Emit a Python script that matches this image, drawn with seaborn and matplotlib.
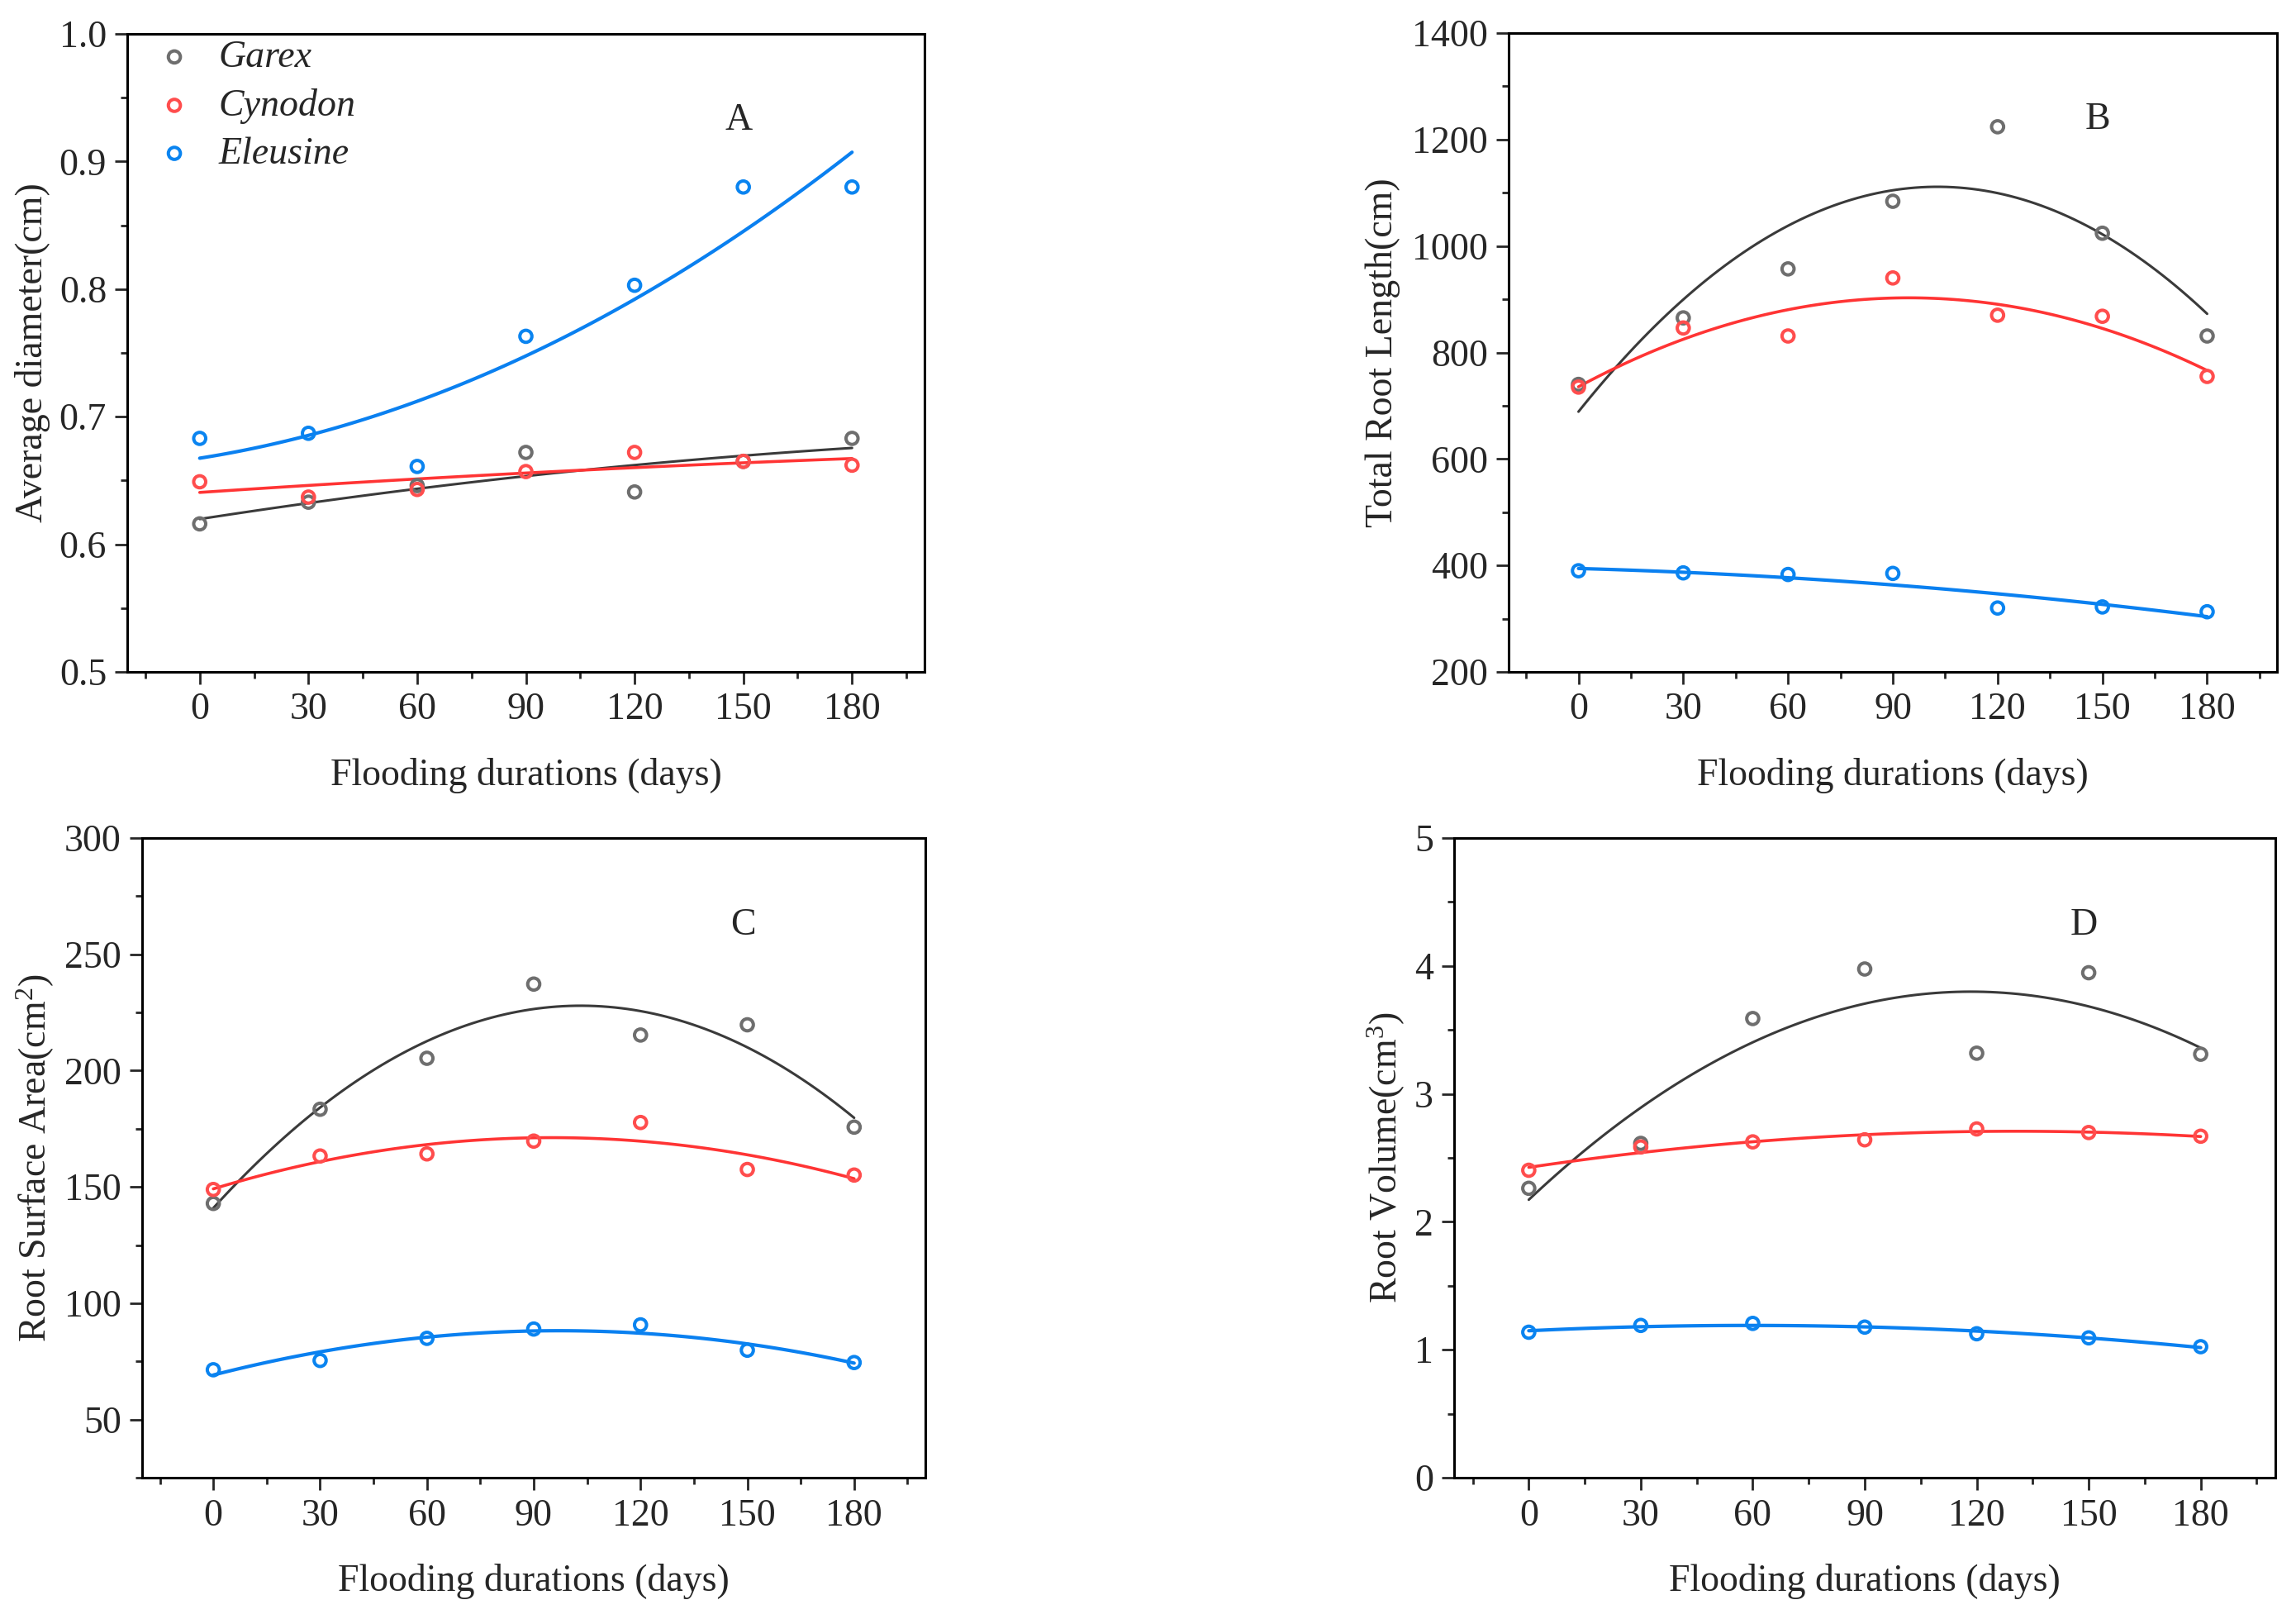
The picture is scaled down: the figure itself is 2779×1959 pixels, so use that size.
import numpy as np
import pandas as pd
import matplotlib
matplotlib.use("Agg")
import matplotlib.pyplot as plt
import seaborn as sns
from matplotlib.ticker import MultipleLocator, FormatStrFormatter

# datos
days = [0, 30, 60, 90, 120, 150, 180]
species = ["Garex", "Cynodon", "Eleusine"]

diam_garex = [0.616, 0.633, 0.646, 0.672, 0.641, 0.665, 0.683]
diam_cynodon = [0.649, 0.637, 0.643, 0.657, 0.672, 0.665, 0.662]
diam_eleusine = [0.683, 0.687, 0.661, 0.763, 0.803, 0.880, 0.880]

length_garex = [740, 865, 957, 1084, 1224, 1024, 831]
length_cynodon = [735, 846, 831, 940, 870, 868, 755]
length_eleusine = [390, 386, 383, 385, 320, 322, 313]

area_garex = [142.9, 183.4, 205.3, 237.2, 215.3, 219.7, 175.7]
area_cynodon = [148.9, 163.3, 164.2, 169.7, 177.7, 157.5, 155.1]
area_eleusine = [71.4, 75.4, 84.9, 88.9, 90.7, 79.8, 74.5]

vol_garex = [2.262, 2.613, 3.589, 3.976, 3.318, 3.947, 3.310]
vol_cynodon = [2.403, 2.585, 2.625, 2.641, 2.726, 2.698, 2.669]
vol_eleusine = [1.137, 1.190, 1.206, 1.177, 1.125, 1.093, 1.024]

colores = ["#6e6e6e", "#ff4d4d", "#0a84f0"]
colores_linea = ["#3a3a3a", "#ff3434", "#0a80f0"]
grosor_linea = [2.2, 2.6, 3.0]

sns.set_style("ticks")
plt.rcParams["font.family"] = ["Liberation Serif", "DejaVu Serif"]
plt.rcParams["mathtext.fontset"] = "custom"
plt.rcParams["mathtext.rm"] = "Liberation Serif"
plt.rcParams["mathtext.it"] = "Liberation Serif:italic"

W, H = 2779, 1959
fig = plt.figure(figsize=(W / 100, H / 100), dpi=100)


def rect(left, right, top, bottom):
    return [left / W, (H - bottom) / H, (right - left) / W, (bottom - top) / H]


paneles = [
    (rect(154, 1119, 41, 813), [diam_garex, diam_cynodon, diam_eleusine],
     (0.5, 1.0), 0.1, 0.05, "%.1f", "Average diameter(cm)", "A", -0.096, -0.135),
    (rect(1826, 2756, 40, 813), [length_garex, length_cynodon, length_eleusine],
     (200, 1400), 200, 100, "%d", "Total Root Length(cm)", "B", -0.141, -0.135),
    (rect(172, 1120, 1014, 1788), [area_garex, area_cynodon, area_eleusine],
     (25, 300), 50, 25, "%d", "Root Surface Area(cm$^2$)", "C", -0.110, -0.135),
    (rect(1760, 2754, 1014, 1788), [vol_garex, vol_cynodon, vol_eleusine],
     (0, 5), 1, 0.5, "%d", "Root Volume(cm$^3$)", "D", -0.057, -0.135),
]

fs = 33
for i, (r, series, ylim, mayor, menor, fmt, ylabel, letra, ylx, xly) in enumerate(paneles):
    ax = fig.add_axes(r)
    for sp, vals, c, cl, lw in zip(species, series, colores, colores_linea, grosor_linea):
        df = pd.DataFrame({"dias": days, "valor": vals})
        sns.regplot(data=df, x="dias", y="valor", order=2, ci=None, ax=ax,
                    label=sp, truncate=True,
                    scatter_kws={"s": 110, "facecolors": "none", "edgecolors": c,
                                 "linewidths": 2.9, "alpha": 1, "zorder": 3},
                    line_kws={"color": cl, "lw": lw, "zorder": 2})
    ax.set_xlim(-20, 200)
    ax.set_ylim(*ylim)
    ax.xaxis.set_major_locator(MultipleLocator(30))
    ax.xaxis.set_minor_locator(MultipleLocator(15))
    ax.yaxis.set_major_locator(MultipleLocator(mayor))
    ax.yaxis.set_minor_locator(MultipleLocator(menor))
    ax.yaxis.set_major_formatter(FormatStrFormatter(fmt))
    ax.set_xticks([0, 30, 60, 90, 120, 150, 180])
    ax.tick_params(axis="both", which="major", direction="out", length=11,
                   width=2, labelsize=fs, pad=7, top=False, right=False)
    ax.tick_params(axis="both", which="minor", direction="out", length=6,
                   width=2, top=False, right=False)
    for s in ax.spines.values():
        s.set_linewidth(2.2)
        s.set_color("black")
    ax.set_xlabel("Flooding durations (days)", fontsize=fs)
    ax.set_ylabel(ylabel, fontsize=fs)
    ax.yaxis.set_label_coords(ylx, 0.5)
    ax.xaxis.set_label_coords(0.5, xly)
    ax.text(0.767, 0.864, letra, transform=ax.transAxes, fontsize=fs,
            ha="center", va="center")
    if i == 0:
        leg = ax.legend(loc="upper left", bbox_to_anchor=(-0.005, 1.026), frameon=False,
                        fontsize=fs, handletextpad=0.42, labelspacing=0.34,
                        borderaxespad=0.2, handlelength=1.5)
        for t in leg.get_texts():
            t.set_fontstyle("italic")

fig.savefig("out.png", dpi=100)
